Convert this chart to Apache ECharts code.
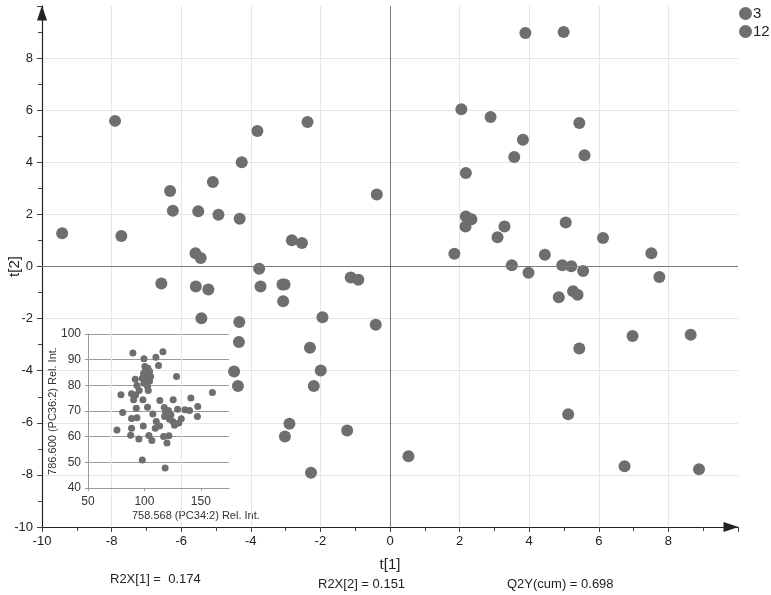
<!DOCTYPE html>
<html>
<head>
<meta charset="utf-8">
<script src="https://cdn.jsdelivr.net/npm/echarts@6/dist/echarts.min.js"></script>
<style>html,body{margin:0;padding:0;background:#fff;}#c{width:771px;height:595px;}</style>
</head>
<body>
<div id="c"></div>
<script>
// Main score plot: group "3"
const g3_t1 = [-7.90,-3.81,-2.37,-4.26,-5.09,-6.32,-6.24,-5.51,-4.93,-4.32,-0.38,-9.42,-7.72,-2.82,-2.53,-5.59,-5.44,-3.76,-6.57,-5.58,-5.22,-3.72,-3.09,-3.03,-3.07,-1.13,-0.91,-5.42,-4.33,-1.94,-0.41,-4.34,-2.30,-4.48,-1.99,-4.37,-2.19,-2.89,-3.02,-1.23,-2.27];
const g3_t2 = [5.59,5.20,5.55,4.00,3.24,2.90,2.14,2.12,1.99,1.83,2.76,1.28,1.17,1.01,0.90,0.51,0.33,-0.09,-0.65,-0.77,-0.88,-0.77,-0.69,-0.69,-1.33,-0.42,-0.51,-1.99,-2.13,-1.95,-2.24,-2.90,-3.12,-4.03,-3.99,-4.59,-4.59,-6.04,-6.53,-6.30,-7.92];
// group "12"
const g12_t1 = [3.89,4.99,2.05,2.89,5.44,3.82,3.57,5.59,2.18,2.18,2.34,2.17,3.29,3.09,5.05,6.12,1.85,3.50,3.98,4.45,4.95,5.21,5.55,7.51,7.74,4.85,5.26,5.39,6.97,8.64,5.44,5.12,0.53,6.74,8.88];
const g12_t2 = [8.96,9.00,6.04,5.74,5.51,4.87,4.20,4.27,3.59,1.92,1.81,1.54,1.54,1.12,1.69,1.09,0.49,0.05,-0.24,0.45,0.05,0.01,-0.17,0.51,-0.40,-1.18,-0.95,-1.08,-2.67,-2.62,-3.15,-5.67,-7.28,-7.67,-7.78];
// Inset: 758.568 (PC34:2) vs 786.600 (PC36:2)
const insetX = [89.8,99.6,110.2,116.4,112.5,128.5,160.3,79.2,100.4,103.1,101.0,104.6,99.3,102.2,105.5,98.1,101.6,104.6,99.6,102.8,103.4,91.9,93.4,95.4,88.6,90.4,92.2,98.7,113.7,125.5,141.2,147.3,147.0,80.7,92.8,102.8,107.5,88.6,93.4,75.7,88.6,87.8,99.0,95.1,104.0,106.6,98.1,118.4,117.0,121.7,120.0,110.5,113.5,109.6,117.6,118.7,121.4,117.9,123.5,122.3,125.2,126.7,130.5,129.4,132.7,135.9,140.0];
const insetY = [92.6,90.4,90.9,93.1,87.7,83.4,77.2,76.3,87.3,86.7,85.8,85.4,84.7,84.1,83.4,82.8,82.1,81.7,80.8,79.5,78.0,82.4,79.9,78.0,76.7,74.4,76.2,74.4,74.1,74.4,75.1,71.8,67.9,69.4,71.1,71.5,68.8,67.1,67.4,62.6,63.3,60.6,64.2,59.1,60.5,58.5,50.9,47.8,60.1,60.4,57.5,65.9,64.2,63.3,71.4,69.6,70.2,67.9,68.5,66.8,65.9,64.4,65.3,70.7,67.0,70.5,70.2];
const seriesNames = ['3','12'];
const footTexts = ['R2X[1] =  0.174','R2X[2] = 0.151','Q2Y(cum) = 0.698'];

const zip = (a,b) => a.map((v,i)=>[v,b[i]]);
const PT = '#6e6e6e';
const FONT = 'Liberation Sans, Arial, sans-serif';

const chart = echarts.init(document.getElementById('c'), null, {renderer:'canvas'});
const mainAxisCommon = {
  type:'value', min:-10, max:10, interval:2, nameMoveOverlap:false,
  axisLine:{show:true, onZero:false, symbol:['none','triangle'], symbolSize:[10,15], symbolOffset:[0,-7],
    lineStyle:{color:'#222', width:1.2}},
  axisTick:{show:true, length:5, lineStyle:{color:'#444'}},
  minorTick:{show:true, splitNumber:2, length:4, lineStyle:{color:'#444'}},
  splitLine:{show:true, showMinLine:false, showMaxLine:false, lineStyle:{color:'#e6e6e6', width:1}},
  axisLabel:{color:'#222', fontSize:13, fontFamily:FONT, showMaxLabel:false}
};
chart.setOption({
  animation:false,
  backgroundColor:'#fff',
  textStyle:{fontFamily:FONT},
  legend:{
    data:seriesNames, orient:'vertical', left:739, top:6, padding:0, icon:'circle',
    itemWidth:13, itemHeight:13, itemGap:3,
    textStyle:{fontSize:15, color:'#222', fontFamily:FONT, padding:[0,0,0,-4]}
  },
  grid:[
    {left:42, top:6, width:696, height:521, outerBoundsMode:'none', containLabel:false},
    {left:88, top:334, width:141, height:154, outerBoundsMode:'none', containLabel:false}
  ],
  xAxis:[
    Object.assign({}, mainAxisCommon, {gridIndex:0, name:'t[1]', nameLocation:'middle', nameGap:30,
      nameTextStyle:{fontSize:15, color:'#222', fontFamily:FONT},
      axisLabel:Object.assign({}, mainAxisCommon.axisLabel, {margin:8})}),
    {type:'value', gridIndex:1, min:50, max:175, interval:50, nameMoveOverlap:false,
      axisLine:{show:true, onZero:false, lineStyle:{color:'#9a9a9a'}},
      axisTick:{show:true, length:3, lineStyle:{color:'#9a9a9a'}},
      splitLine:{show:false},
      axisLabel:{color:'#333', fontSize:12, fontFamily:FONT, margin:8, showMaxLabel:false}}
  ],
  yAxis:[
    Object.assign({}, mainAxisCommon, {gridIndex:0, name:'t[2]', nameLocation:'middle', nameGap:20, nameRotate:90,
      nameTextStyle:{fontSize:15, color:'#222', fontFamily:FONT},
      axisLabel:Object.assign({}, mainAxisCommon.axisLabel, {margin:9})}),
    {type:'value', gridIndex:1, min:40, max:100, interval:10, nameMoveOverlap:false,
      name:'786.600 (PC36:2) Rel. Int.', nameLocation:'middle', nameGap:30, nameRotate:90,
      nameTextStyle:{fontSize:11, color:'#333', fontFamily:FONT},
      axisLine:{show:true, onZero:false, lineStyle:{color:'#9a9a9a'}},
      axisTick:{show:true, length:3, lineStyle:{color:'#9a9a9a'}},
      splitLine:{show:true, showMinLine:false, lineStyle:{color:'#9a9a9a', width:1}},
      axisLabel:{color:'#333', fontSize:12, fontFamily:FONT, margin:7}}
  ],
  series:[
    {name:seriesNames[0], type:'scatter', xAxisIndex:0, yAxisIndex:0, symbolSize:12,
      itemStyle:{color:PT, opacity:1}, data:zip(g3_t1,g3_t2), z:3,
      markLine:{silent:true, symbol:'none', label:{show:false}, animation:false,
        lineStyle:{color:'#7a7a7a', type:'solid', width:1},
        data:[{xAxis:0},{yAxis:0}]}},
    {name:seriesNames[1], type:'scatter', xAxisIndex:0, yAxisIndex:0, symbolSize:12,
      itemStyle:{color:PT, opacity:1}, data:zip(g12_t1,g12_t2), z:3},
    {name:'inset', type:'scatter', xAxisIndex:1, yAxisIndex:1, symbolSize:7,
      itemStyle:{color:PT, opacity:1}, data:zip(insetX,insetY), z:4}
  ],
  graphic:[
    {type:'text', left:132, top:510, style:{text:'758.568 (PC34:2) Rel. Int.', fontSize:11, fill:'#333', fontFamily:FONT}},
    {type:'text', left:110, top:573, style:{text:footTexts[0], fontSize:13, fill:'#222', fontFamily:FONT}},
    {type:'text', left:318, top:578, style:{text:footTexts[1], fontSize:13, fill:'#222', fontFamily:FONT}},
    {type:'text', left:507, top:578, style:{text:footTexts[2], fontSize:13, fill:'#222', fontFamily:FONT}}
  ]
});
</script>
</body>
</html>
